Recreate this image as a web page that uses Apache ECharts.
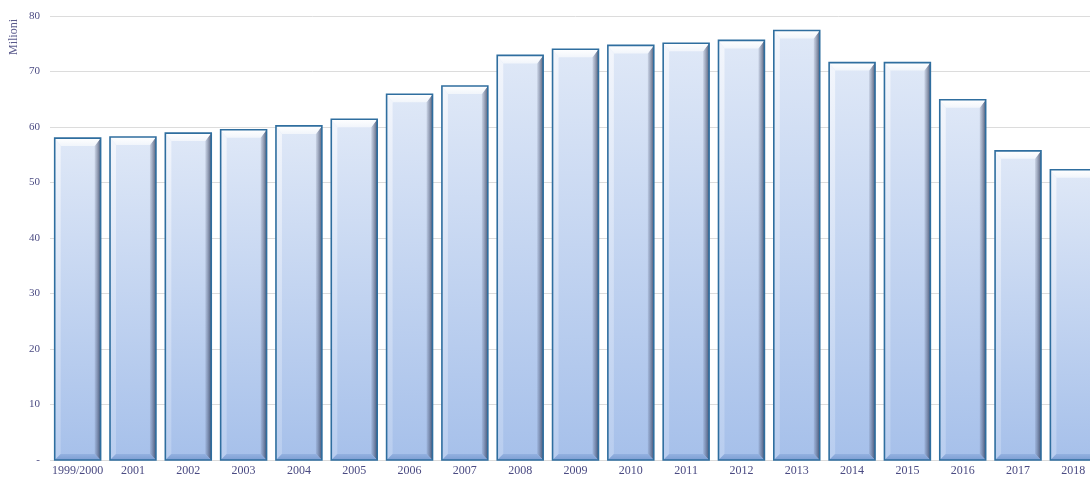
<!DOCTYPE html>
<html>
<head>
<meta charset="utf-8">
<style>
  html, body { margin: 0; padding: 0; background: #ffffff; overflow: hidden; }
  /* the plot runs a little past the right edge of the window, so the last bar is cut */
  #chart { width: 1101px; height: 477px; }
</style>
<script src="https://cdn.jsdelivr.net/npm/echarts@6/dist/echarts.min.js"></script>
</head>
<body>
<div id="chart"></div>
<script>
// Years shown on the horizontal axis
const categories = ['1999/2000', '2001', '2002', '2003', '2004', '2005', '2006', '2007', '2008', '2009',
  '2010', '2011', '2012', '2013', '2014', '2015', '2016', '2017', '2018'];
// Values in millions
const values = [58.0, 58.2, 58.9, 59.5, 60.2, 61.4, 65.9, 67.4, 72.9, 74.0,
  74.7, 75.1, 75.6, 77.4, 71.6, 71.6, 64.9, 55.7, 52.3];
// Vertical axis range and step
const yMin = 0;
const yMax = 80;
const yStep = 10;
const yName = 'Milioni';

const textColor = '#4a4a82';
const fontFamily = '"Liberation Serif", "DejaVu Serif", serif';

// Bevelled bar: a face with a vertical gradient, four bevel facets and an outline.
function renderBevelBar(params, api) {
  const idx = api.value(0);
  const val = api.value(1);
  const top = api.coord([idx, val]);
  const base = api.coord([idx, 0]);
  const band = api.size([1, 0])[0];
  const w = band * 0.83;
  const x0 = top[0] - w / 2, x1 = top[0] + w / 2;
  const y0 = top[1], y1 = base[1];
  const h = y1 - y0;
  const bt = 8, bs = 6, bb = 6;

  const faceGrad = new echarts.graphic.LinearGradient(0, 0, 0, 1, [
    { offset: 0, color: '#dfe8f7' },
    { offset: 1, color: '#a6c0ea' }
  ]);
  const leftGrad = new echarts.graphic.LinearGradient(0, 0, 0, 1, [
    { offset: 0, color: '#f3f6fc' },
    { offset: 1, color: '#b8cdef' }
  ]);
  const rightShade = new echarts.graphic.LinearGradient(0, 0, 1, 0, [
    { offset: 0, color: 'rgba(70,80,110,0.12)' },
    { offset: 1, color: 'rgba(40,50,80,0.75)' }
  ]);
  const topGrad = new echarts.graphic.LinearGradient(0, 0, 0, 1, [
    { offset: 0, color: '#ffffff' },
    { offset: 1, color: '#f1f5fb' }
  ]);
  const bottomGrad = new echarts.graphic.LinearGradient(0, 0, 0, 1, [
    { offset: 0, color: '#93b1e0' },
    { offset: 1, color: '#7d9ed3' }
  ]);

  return {
    type: 'group',
    children: [
      { type: 'rect', shape: { x: x0, y: y0, width: w, height: h }, style: { fill: faceGrad } },
      { type: 'polygon', shape: { points: [[x0, y0], [x0 + bs, y0 + bt], [x0 + bs, y1 - bb], [x0, y1]] },
        style: { fill: leftGrad } },
      { type: 'polygon', shape: { points: [[x1, y0], [x1, y1], [x1 - bs, y1 - bb], [x1 - bs, y0 + bt]] },
        style: { fill: faceGrad } },
      { type: 'polygon', shape: { points: [[x1, y0], [x1, y1], [x1 - bs, y1 - bb], [x1 - bs, y0 + bt]] },
        style: { fill: rightShade } },
      { type: 'polygon', shape: { points: [[x0, y1], [x0 + bs, y1 - bb], [x1 - bs, y1 - bb], [x1, y1]] },
        style: { fill: bottomGrad } },
      { type: 'polygon', shape: { points: [[x0, y0], [x1, y0], [x1 - bs, y0 + bt], [x0 + bs, y0 + bt]] },
        style: { fill: topGrad } },
      { type: 'rect', shape: { x: x0, y: y0, width: w, height: h },
        style: { fill: 'none', stroke: '#2f6e9f', lineWidth: 1.6 } }
    ]
  };
}

const chart = echarts.init(document.getElementById('chart'), null, { renderer: 'canvas' });
chart.setOption({
  animation: false,
  backgroundColor: '#ffffff',
  grid: { left: 50, top: 16, bottom: 16, right: 0, containLabel: false },
  xAxis: {
    type: 'category',
    data: categories,
    axisLine: { show: false },
    axisTick: { show: false },
    axisLabel: { color: textColor, fontFamily: fontFamily, fontSize: 12, margin: 5, interval: 0 }
  },
  yAxis: {
    type: 'value',
    min: yMin,
    max: yMax,
    interval: yStep,
    axisLine: { show: false },
    axisTick: { show: false },
    axisLabel: {
      color: textColor, fontFamily: fontFamily, fontSize: 11, margin: 10,
      formatter: v => (v === 0 ? '-' : String(v))
    },
    splitLine: { lineStyle: { color: '#dcdcdc', width: 1 } }
  },
  graphic: [{
    type: 'text',
    x: 14,
    y: 37,
    rotation: Math.PI / 2,
    style: {
      text: yName, fill: '#5a5a8c', font: '12px ' + fontFamily,
      align: 'center', verticalAlign: 'middle'
    }
  }],
  series: [{
    type: 'custom',
    renderItem: renderBevelBar,
    encode: { x: 0, y: 1 },
    data: values.map((v, i) => [i, v]),
    clip: false
  }]
});
</script>
</body>
</html>
